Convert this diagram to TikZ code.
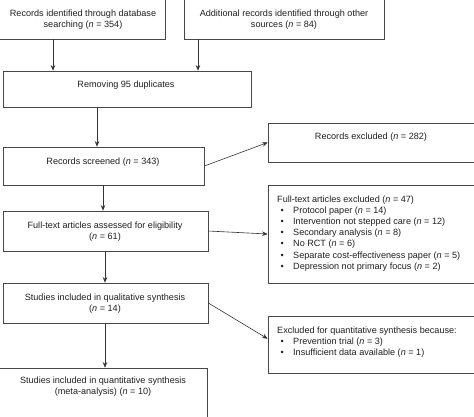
\documentclass[tikz,border=0pt]{standalone}
\usepackage{fontspec}
\setmainfont{Liberation Sans}
\usetikzlibrary{calc,arrows.meta}
\begin{document}
\begin{tikzpicture}[x=1pt,y=-1pt,
  box/.style={draw=black!72, line width=0.7pt, inner sep=0pt},
  txt/.style={font=\fontsize{9.1}{10.8}\selectfont, text=black!88, align=center, inner sep=0pt},
  ltxt/.style={font=\fontsize{9.1}{11.1}\selectfont, text=black!88, align=left, inner sep=0pt, anchor=west},
  arr/.style={draw=black!80, line width=0.6pt, -{Stealth[length=5.5pt,width=4.5pt]}}]
\useasboundingbox (0,0) rectangle (474,416);
\clip (0,0) rectangle (474,416);
% boxes
\node[box, minimum width=175pt, minimum height=49pt] (b1) at (77.5,14.5) {};
\node[box, minimum width=200pt, minimum height=49pt] (b2) at (284,14.5) {};
\node[box, minimum width=248pt, minimum height=36pt] (b3) at (127,89) {};
\node[box, minimum width=201pt, minimum height=38pt] (b4) at (103.5,166) {};
\node[box, minimum width=205pt, minimum height=40pt] (b5) at (105.5,231) {};
\node[box, minimum width=205pt, minimum height=40pt] (b6) at (105.5,303) {};
\node[box, minimum width=208pt, minimum height=72pt] (b7) at (103,404) {};
\node[box, minimum width=210pt, minimum height=39pt] (r1) at (373,142.5) {};
\node[box, minimum width=210pt, minimum height=98pt] (r2) at (373,234) {};
\node[box, minimum width=210pt, minimum height=57pt] (r3) at (373,344.5) {};
% texts
\node[txt] (t1) at (83,20) {Records identified through database\\searching (\textit{n} = 354)};
\node[txt] (t2) at (284,20) {Additional records identified through other\\sources (\textit{n} = 84)};
\node[txt] (t3) at (126,85) {Removing 95 duplicates};
\node[txt] (t4) at (103,162) {Records screened (\textit{n} = 343)};
\node[txt] (t5) at (105,231.5) {Full-text articles assessed for eligibility\\(\textit{n} = 61)};
\node[txt] (t6) at (105,303.5) {Studies included in qualitative synthesis\\(\textit{n} = 14)};
\node[txt] (t7) at (103,387) {Studies included in quantitative synthesis\\(meta-analysis) (\textit{n} = 10)};
\node[txt] (t8) at (371,137) {Records excluded (\textit{n} = 282)};
\newcommand{\bul}{\makebox[16pt][l]{\hspace{3.5pt}•}}
\node[ltxt] (t9) at (277,233.5) {Full-text articles excluded (\textit{n} = 47)\\
\bul Protocol paper (\textit{n} = 14)\\
\bul Intervention not stepped care (\textit{n} = 12)\\
\bul Secondary analysis (\textit{n} = 8)\\
\bul No RCT (\textit{n} = 6)\\
\bul Separate cost-effectiveness paper (\textit{n} = 5)\\
\bul Depression not primary focus (\textit{n} = 2)};
\node[ltxt] (t10) at (277,342) {Excluded for quantitative synthesis because:\\
\bul Prevention trial (\textit{n} = 3)\\
\bul Insufficient data available (\textit{n} = 1)};
% connectors
\coordinate (xa) at (53,0);
\coordinate (xb) at (198,0);
\coordinate (xc) at (97,0);
\coordinate (xd) at (103,0);
\coordinate (xe) at (105,0);
\draw[arr] (b1.south -| xa) -- (b3.north -| xa);
\draw[arr] (b2.south -| xb) -- (b3.north -| xb);
\draw[arr] (b3.south -| xc) -- (b4.north -| xc);
\draw[arr] (b4.south -| xd) -- (b5.north -| xd);
\draw[arr] (b5.south -| xe) -- (b6.north -| xe);
\draw[arr] (b6.south -| xe) -- (b7.north -| xe);
\draw[arr] (b4.east) -- (r1.west);
\draw[arr] (b5.east) -- (r2.west);
\draw[arr] (b6.east) -- ($(r3.north west)!0.4!(r3.south west)$);
\end{tikzpicture}
\end{document}
